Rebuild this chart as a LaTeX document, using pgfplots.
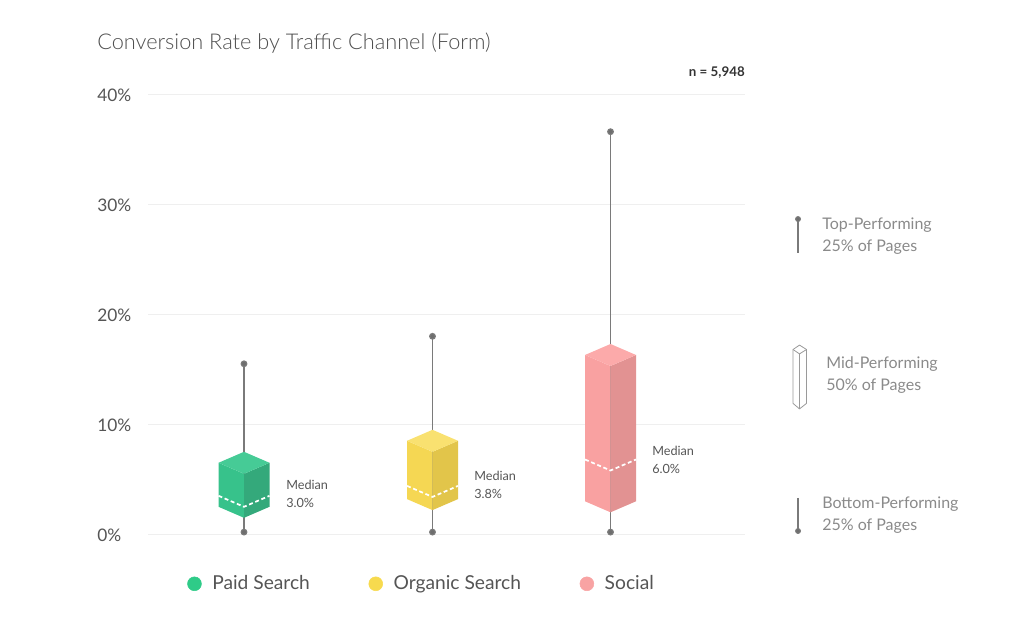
\documentclass[border=0pt]{standalone}
\usepackage{fontspec}
\setmainfont{Lato}
\newfontfamily\lightfont{Lato Light}
\usepackage{pgfplots}
\pgfplotsset{compat=1.18}
\definecolor{gTop}{HTML}{46CB96}
\definecolor{gL}{HTML}{37C28B}
\definecolor{gR}{HTML}{34A97B}
\definecolor{yTop}{HTML}{F9E170}
\definecolor{yL}{HTML}{F5D753}
\definecolor{yR}{HTML}{E2C54A}
\definecolor{pTop}{HTML}{FCAAAA}
\definecolor{pL}{HTML}{F9A1A1}
\definecolor{pR}{HTML}{E29292}
\definecolor{gDot}{HTML}{2FCB88}
\definecolor{yDot}{HTML}{F7DA4E}
\definecolor{pDot}{HTML}{F8A3A3}
\definecolor{gridc}{HTML}{EFEFEF}
\definecolor{tickc}{HTML}{555555}
\definecolor{titlec}{HTML}{4F4F4F}
\definecolor{legc}{HTML}{8A8A8A}
\definecolor{whisk}{HTML}{7A7A7A}
\definecolor{outl}{HTML}{9A9A9A}
\begin{document}
\begin{tikzpicture}
\path[use as bounding box] (0pt,0pt) rectangle (768pt,478.5pt);
\begin{axis}[
  at={(111pt,77.775pt)}, anchor=south west,
  scale only axis, width=447.75pt, height=330pt,
  xmin=148, xmax=745, ymin=0, ymax=40,
  clip=false,
  axis line style={draw=none},
  tick style={draw=none},
  major tick length=0pt,
  xtick=\empty,
  ytick={0,10,20,30,40},
  yticklabel={\pgfmathprintnumber{\tick}\%},
  /pgf/number format/assume math mode=true,
  yticklabel style={anchor=west, xshift=-41.5pt, yshift=-0.6pt, font=\fontsize{13}{15}\selectfont, text=tickc},
  ymajorgrids, grid style={color=gridc, line width=0.8pt},
  legend columns=3,
  legend cell align=left,
  legend style={draw=none, fill=none, at={(axis cs:183,-4.5)}, anchor=west,
    font=\fontsize{14.4}{17}\selectfont, text=tickc,
    /tikz/every odd column/.append style={column sep=6pt},
    /tikz/every even column/.append style={column sep=42pt}},
]
% legend
\addlegendimage{legend image code/.code={\fill[gDot] (0pt,0pt) circle (5.2pt);}}
\addlegendentry{Paid Search}
\addlegendimage{legend image code/.code={\fill[yDot] (0pt,0pt) circle (5.2pt);}}
\addlegendentry{Organic Search}
\addlegendimage{legend image code/.code={\fill[pDot] (0pt,0pt) circle (5.2pt);}}
\addlegendentry{Social}

% whiskers (min to max)
\addplot[forget plot, color=whisk, line width=0.9pt, mark=*, mark size=2.1pt, mark options={fill=whisk!90!black, draw=none}] coordinates {(244,0.2) (244,15.5)};
\addplot[forget plot, color=whisk, line width=0.9pt, mark=*, mark size=2.1pt, mark options={fill=whisk!90!black, draw=none}] coordinates {(432.5,0.2) (432.5,18.0)};
\addplot[forget plot, color=whisk, line width=0.9pt, mark=*, mark size=2.1pt, mark options={fill=whisk!90!black, draw=none}] coordinates {(610.5,0.2) (610.5,36.6)};

% Paid Search: Q1 2.0, median 3.0, Q3 6.0
\addplot[forget plot, fill=gL, draw=none] coordinates {(218.5,2.5)(244,1.5)(244,5.5)(218.5,6.5)} -- cycle;
\addplot[forget plot, fill=gR, draw=none] coordinates {(244,1.5)(269.5,2.5)(269.5,6.5)(244,5.5)} -- cycle;
\addplot[forget plot, fill=gTop, draw=none] coordinates {(218.5,6.5)(244,7.5)(269.5,6.5)(244,5.5)} -- cycle;
\addplot[forget plot, color=white, line width=1.3pt, dash pattern=on 3pt off 2pt] coordinates {(218.5,3.5)(244,2.5)(269.5,3.5)};

% Organic Search: Q1 2.7, median 3.9, Q3 8.0
\addplot[forget plot, fill=yL, draw=none] coordinates {(407,3.2)(432.5,2.2)(432.5,7.5)(407,8.5)} -- cycle;
\addplot[forget plot, fill=yR, draw=none] coordinates {(432.5,2.2)(458,3.2)(458,8.5)(432.5,7.5)} -- cycle;
\addplot[forget plot, fill=yTop, draw=none] coordinates {(407,8.5)(432.5,9.5)(458,8.5)(432.5,7.5)} -- cycle;
\addplot[forget plot, color=white, line width=1.3pt, dash pattern=on 3pt off 2pt] coordinates {(407,4.4)(432.5,3.4)(458,4.4)};

% Social: Q1 2.5, median 6.3, Q3 15.8
\addplot[forget plot, fill=pL, draw=none] coordinates {(585,3.0)(610.5,2.0)(610.5,15.3)(585,16.3)} -- cycle;
\addplot[forget plot, fill=pR, draw=none] coordinates {(610.5,2.0)(636,3.0)(636,16.3)(610.5,15.3)} -- cycle;
\addplot[forget plot, fill=pTop, draw=none] coordinates {(585,16.3)(610.5,17.3)(636,16.3)(610.5,15.3)} -- cycle;
\addplot[forget plot, color=white, line width=1.3pt, dash pattern=on 3pt off 2pt] coordinates {(585,6.8)(610.5,5.8)(636,6.8)};

% median labels
\node[anchor=west, inner sep=0pt, align=left, font=\fontsize{9.5}{13.5}\selectfont, text=tickc] at (axis cs:286,3.66) {Median\\3.0\%};
\node[anchor=west, inner sep=0pt, align=left, font=\fontsize{9.5}{13.5}\selectfont, text=tickc] at (axis cs:474,4.53) {Median\\3.8\%};
\node[anchor=west, inner sep=0pt, align=left, font=\fontsize{9.5}{13.5}\selectfont, text=tickc] at (axis cs:652,6.8) {Median\\6.0\%};

% right-hand key
\addplot[forget plot, color=whisk, line width=0.8pt, mark=*, mark size=1.8pt, mark indices={1}, mark options={fill=whisk!90!black, draw=none}] coordinates {(798,28.66)(798,25.6)};
\addplot[forget plot, color=whisk, line width=0.8pt, mark=*, mark size=1.8pt, mark indices={2}, mark options={fill=whisk!90!black, draw=none}] coordinates {(798,3.3)(798,0.3)};
\addplot[forget plot, color=outl, line width=0.6pt, fill=white] coordinates {(799.5,17.2)(793,16.8)(793,11.9)(799.5,11.4)(806.5,11.9)(806.5,16.8)} -- cycle;
\addplot[forget plot, color=outl, line width=0.6pt] coordinates {(793,16.8)(799.5,16.4)(806.5,16.8)};
\addplot[forget plot, color=outl, line width=0.6pt] coordinates {(799.5,16.4)(799.5,11.4)};
\node[anchor=west, inner sep=0pt, align=left, font=\fontsize{12}{16.5}\selectfont, text=legc] at (axis cs:822,27.1) {Top-Performing\\25\% of Pages};
\node[anchor=west, inner sep=0pt, align=left, font=\fontsize{12}{16.5}\selectfont, text=legc] at (axis cs:826,14.5) {Mid-Performing\\50\% of Pages};
\node[anchor=west, inner sep=0pt, align=left, font=\fontsize{12}{16.5}\selectfont, text=legc] at (axis cs:822,1.75) {Bottom-Performing\\25\% of Pages};

% title and n
\node[anchor=west, inner sep=0pt, font=\lightfont\fontsize{16.3}{19}\selectfont, text=titlec] at (axis cs:97,44.66) {Conversion Rate by Traffic Channel (Form)};
\node[anchor=east, inner sep=0pt, font=\bfseries\fontsize{10}{12}\selectfont, text=black!80] at (axis cs:745,42.0) {n = 5,948};
\end{axis}
\end{tikzpicture}
\end{document}
